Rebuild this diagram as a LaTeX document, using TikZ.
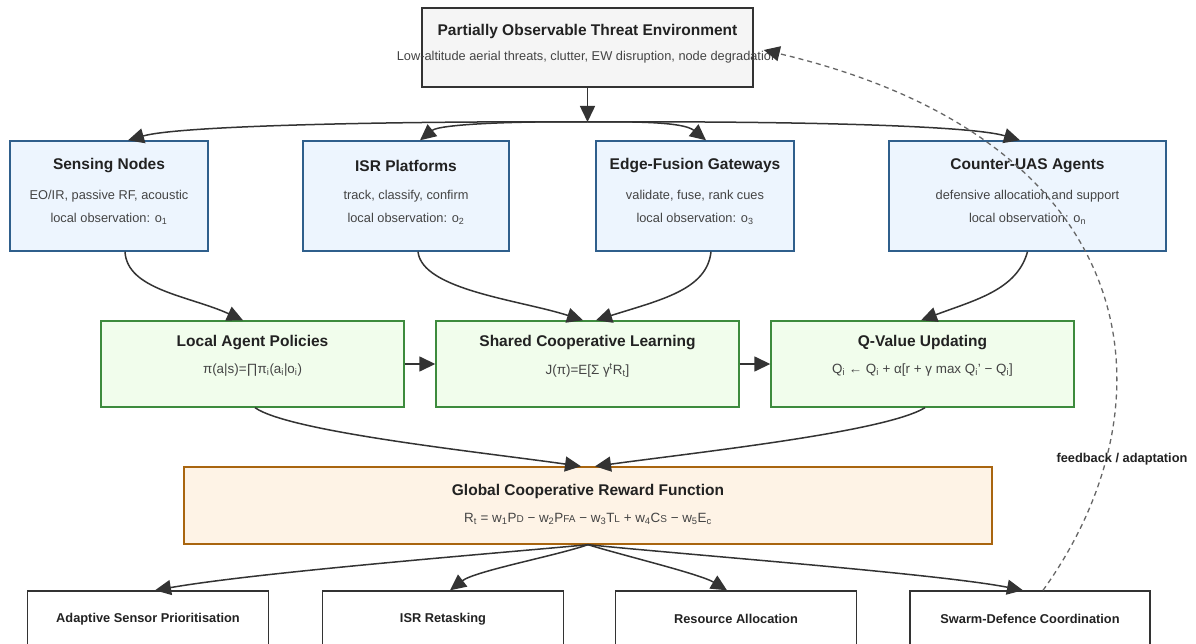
\documentclass[tikz,border=0pt]{standalone}
\usepackage{fontspec}
\setmainfont{Liberation Sans}
\usetikzlibrary{arrows.meta}

\definecolor{ink}{HTML}{333333}
\definecolor{titlec}{HTML}{222222}
\definecolor{subc}{HTML}{444444}
\definecolor{envfill}{HTML}{F5F5F5}
\definecolor{obsfill}{HTML}{EDF5FE}
\definecolor{obsline}{HTML}{2F5F8C}
\definecolor{lrnfill}{HTML}{F1FDEC}
\definecolor{lrnline}{HTML}{3D8B3D}
\definecolor{rwdfill}{HTML}{FEF3E6}
\definecolor{rwdline}{HTML}{A9650F}
\definecolor{fbline}{HTML}{666666}

% small capitals used as subscripts in the reward formula
\newcommand\smcap[1]{{\fontsize{10}{11}\selectfont #1}}

\tikzset{
  wh/.style n args={2}{minimum width=#1pt, minimum height=#2pt, inner sep=0pt},
  envbox/.style={draw=ink, fill=envfill, line width=1.4pt},
  obsbox/.style={draw=obsline, fill=obsfill, line width=1.4pt},
  lrnbox/.style={draw=lrnline, fill=lrnfill, line width=1.4pt},
  rwdbox/.style={draw=rwdline, fill=rwdfill, line width=1.4pt},
  outbox/.style={draw=ink, fill=white, line width=1.4pt},
  ttl/.style={font=\fontsize{15.5}{17}\selectfont\bfseries, text=titlec, inner sep=0pt},
  sub/.style={font=\fontsize{12.8}{14}\selectfont, text=subc, inner sep=0pt},
  form/.style={font=\fontsize{13.4}{15}\selectfont, text=subc, inner sep=0pt},
  outtxt/.style={font=\fontsize{12.8}{14}\selectfont\bfseries, text=titlec, inner sep=0pt},
  arr/.style={draw=ink, line width=1.5pt, -{Triangle[length=16pt,width=15pt]}},
  fb/.style={draw=fbline, line width=1.3pt, dash pattern=on 5pt off 4pt,
             -{Triangle[length=16pt,width=15pt,color=ink,fill=ink]}},
}

\begin{document}
\begin{tikzpicture}[x=1pt, y=-1pt]
\useasboundingbox (0,0) rectangle (1196,644);
\fill[white] (0,0) rectangle (1196,644);
\clip (0,0) rectangle (1196,644);

% environment
\node[envbox, wh={331}{79}] (env) at (587.5,47.5) {};
\node[ttl] (envT) at (587.5,31) {Partially Observable Threat Environment};
\node[sub] (envS) at (587.5,57.5) {Low-altitude aerial threats, clutter, EW disruption, node degradation};

% observing agents
\node[obsbox, wh={198}{110}] (sense) at (109,196) {};
\node[ttl] (senseT) at (109,166) {Sensing Nodes};
\node[sub] (senseS) at (109,196) {EO/IR, passive RF, acoustic};
\node[sub] (senseO) at (109,219) {local observation: o\textsubscript{1}};

\node[obsbox, wh={206}{110}] (isr) at (406,196) {};
\node[ttl] (isrT) at (406,166) {ISR Platforms};
\node[sub] (isrS) at (406,196) {track, classify, confirm};
\node[sub] (isrO) at (406,219) {local observation: o\textsubscript{2}};

\node[obsbox, wh={198}{110}] (edge) at (695,196) {};
\node[ttl] (edgeT) at (695,166) {Edge-Fusion Gateways};
\node[sub] (edgeS) at (695,196) {validate, fuse, rank cues};
\node[sub] (edgeO) at (695,219) {local observation: o\textsubscript{3}};

\node[obsbox, wh={277}{110}] (cuas) at (1027.5,196) {};
\node[ttl] (cuasT) at (1027.5,166) {Counter-UAS Agents};
\node[sub] (cuasS) at (1027.5,196) {defensive allocation and support};
\node[sub] (cuasO) at (1027.5,219) {local observation: o\textsubscript{n}};

% learning layer
\node[lrnbox, wh={303}{86}] (local) at (252.5,364) {};
\node[ttl] (localT) at (252.5,343) {Local Agent Policies};
\node[form] (localS) at (252.5,370) {π(a|s)=∏π\textsubscript{i}(a\textsubscript{i}|o\textsubscript{i})};

\node[lrnbox, wh={303}{86}] (shared) at (587.5,364) {};
\node[ttl] (sharedT) at (587.5,343) {Shared Cooperative Learning};
\node[form] (sharedS) at (587.5,370) {J(π)=E[Σ γ\textsuperscript{t}R\textsubscript{t}]};

\node[lrnbox, wh={303}{86}] (qval) at (922.5,364) {};
\node[ttl] (qvalT) at (922.5,343) {Q-Value Updating};
\node[form] (qvalS) at (922.5,370) {Q\textsubscript{i} ← Q\textsubscript{i} + α[r + γ max Q\textsubscript{i}' − Q\textsubscript{i}]};

% reward
\node[rwdbox, wh={808}{77}] (reward) at (588,505.5) {};
\node[ttl] (rewardT) at (588,491) {Global Cooperative Reward Function};
\node[form] (rewardS) at (588,519) {R\textsubscript{t} = w\textsubscript{1}P\smcap{D} − w\textsubscript{2}P\smcap{FA} − w\textsubscript{3}T\smcap{L} + w\textsubscript{4}C\smcap{S} − w\textsubscript{5}E\textsubscript{c}};

% outcomes
\node[outbox, wh={241}{70}] (adapt) at (148,626) {};
\node[outtxt] (adaptT) at (148,619) {Adaptive Sensor Prioritisation};
\node[outbox, wh={241}{70}] (retask) at (443,626) {};
\node[outtxt] (retaskT) at (443,619) {ISR Retasking};
\node[outbox, wh={241}{70}] (resrc) at (736,626) {};
\node[outtxt] (resrcT) at (736,619) {Resource Allocation};
\node[outbox, wh={240}{70}] (swarm) at (1030,626) {};
\node[outtxt] (swarmT) at (1030,619) {Swarm-Defence Coordination};

% environment fans out to the observing agents
\coordinate (split) at (587.5,122);
\draw[arr] (env.south) -- (split);
\draw[arr] (split) .. controls (450,121) and (185,124) .. ([xshift=19pt]sense.north);
\draw[arr] (split) .. controls (520,121) and (440,124) .. ([xshift=14pt]isr.north);
\draw[arr] (split) .. controls (656,121) and (686,124) .. ([xshift=11pt]edge.north);
\draw[arr] (split) .. controls (750,121) and (965,124) .. ([xshift=-7.5pt]cuas.north);

% observations into learning
\draw[arr] ([xshift=16pt]sense.south) .. controls (127,290) and (190,296) .. ([xshift=-9.5pt]local.north);
\draw[arr] ([xshift=12pt]isr.south) .. controls (422,290) and (520,300) .. ([xshift=-4.5pt]shared.north);
\draw[arr] ([xshift=16pt]edge.south) .. controls (707,290) and (660,300) .. ([xshift=8.5pt]shared.north);
\draw[arr] (cuas.south) .. controls (1017,290) and (975,300) .. ([xshift=-1.5pt]qval.north);

\draw[arr] (local.east) -- (shared.west);
\draw[arr] (shared.east) -- (qval.west);

% learning into reward
\draw[arr] ([xshift=2.5pt]local.south) .. controls (290,432) and (480,452) .. ([xshift=-7pt]reward.north);
\draw[arr] ([xshift=2.5pt]qval.south) .. controls (885,432) and (700,452) .. ([xshift=7pt]reward.north);

% reward drives the outcomes
\draw[arr] (reward.south) .. controls (500,553) and (260,572) .. ([xshift=7pt]adapt.north);
\draw[arr] (reward.south) .. controls (555,556) and (475,571) .. ([xshift=7pt]retask.north);
\draw[arr] (reward.south) .. controls (625,556) and (700,574) .. ([xshift=-9pt]resrc.north);
\draw[arr] (reward.south) .. controls (690,555) and (940,574) .. ([xshift=-7pt]swarm.north);

% feedback loop back to the environment
\coordinate (fbEnd) at ([xshift=10pt,yshift=-2.5pt]env.east);
\draw[fb] ([xshift=13pt]swarm.north) .. controls (1180,400) and (1145,140) .. (fbEnd);
\node[outtxt] (fbT) at (1122,459) {feedback / adaptation};
\end{tikzpicture}
\end{document}
